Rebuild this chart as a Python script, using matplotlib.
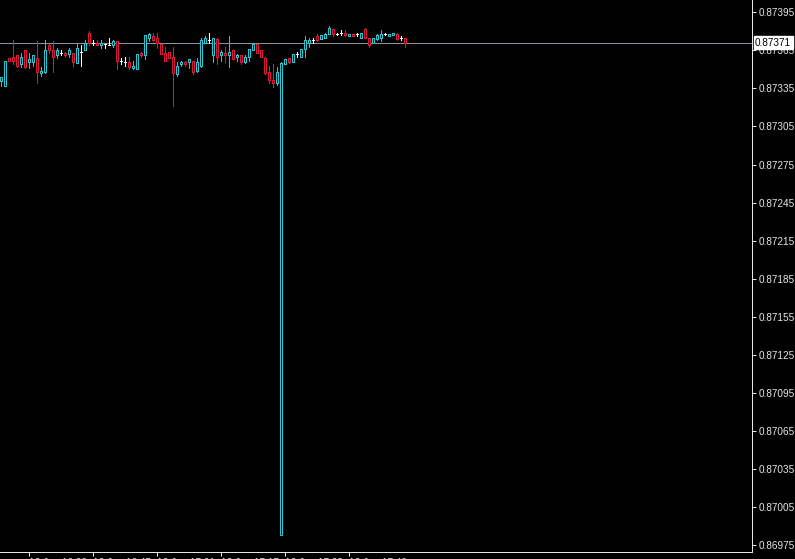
import matplotlib
matplotlib.use("Agg")
import matplotlib.pyplot as plt
import matplotlib.transforms as mtransforms

# one-minute candles, prices
opens = [0.87341, 0.87337, 0.87359, 0.87360, 0.87361, 0.87354, 0.87365, 0.87356, 0.87356, 0.87359,
         0.87347, 0.87348, 0.87369, 0.87365, 0.87361, 0.87363, 0.87363, 0.87362, 0.87363, 0.87355,
         0.87364, 0.87365, 0.87379, 0.87371, 0.87371, 0.87369, 0.87370, 0.87369, 0.87369, 0.87372,
         0.87357, 0.87356, 0.87356, 0.87351, 0.87350, 0.87363, 0.87361, 0.87375, 0.87376, 0.87375,
         0.87370, 0.87363, 0.87364, 0.87360, 0.87346, 0.87354, 0.87356, 0.87356, 0.87357, 0.87349,
         0.87353, 0.87371, 0.87373, 0.87361, 0.87374, 0.87361, 0.87363, 0.87361, 0.87365, 0.87360,
         0.87361, 0.87356, 0.87360, 0.87365, 0.87370, 0.87365, 0.87359, 0.87348, 0.87342, 0.87339,
         0.86983, 0.87354, 0.87359, 0.87356, 0.87362, 0.87360, 0.87366, 0.87371, 0.87373, 0.87376,
         0.87374, 0.87375, 0.87378, 0.87382, 0.87378, 0.87379, 0.87379, 0.87376, 0.87378, 0.87378,
         0.87375, 0.87382, 0.87375, 0.87371, 0.87374, 0.87375, 0.87378, 0.87376, 0.87377, 0.87378,
         0.87375, 0.87375]
highs = [0.87344, 0.87357, 0.87359, 0.87373, 0.87361, 0.87363, 0.87365, 0.87363, 0.87361, 0.87372,
         0.87352, 0.87373, 0.87370, 0.87372, 0.87367, 0.87365, 0.87364, 0.87367, 0.87363, 0.87370,
         0.87369, 0.87373, 0.87380, 0.87373, 0.87373, 0.87373, 0.87370, 0.87375, 0.87373, 0.87372,
         0.87359, 0.87360, 0.87360, 0.87357, 0.87362, 0.87364, 0.87377, 0.87379, 0.87379, 0.87379,
         0.87370, 0.87368, 0.87364, 0.87368, 0.87356, 0.87357, 0.87357, 0.87358, 0.87357, 0.87359,
         0.87375, 0.87376, 0.87379, 0.87375, 0.87375, 0.87365, 0.87368, 0.87376, 0.87365, 0.87362,
         0.87361, 0.87361, 0.87366, 0.87370, 0.87370, 0.87365, 0.87360, 0.87353, 0.87354, 0.87352,
         0.87356, 0.87358, 0.87359, 0.87362, 0.87364, 0.87366, 0.87376, 0.87375, 0.87375, 0.87378,
         0.87377, 0.87379, 0.87384, 0.87382, 0.87379, 0.87381, 0.87381, 0.87378, 0.87378, 0.87379,
         0.87379, 0.87383, 0.87375, 0.87375, 0.87378, 0.87381, 0.87379, 0.87378, 0.87379, 0.87379,
         0.87376, 0.87375]
lows = [0.87337, 0.87337, 0.87357, 0.87354, 0.87352, 0.87352, 0.87351, 0.87351, 0.87353, 0.87339,
        0.87345, 0.87347, 0.87363, 0.87348, 0.87359, 0.87361, 0.87360, 0.87360, 0.87353, 0.87355,
        0.87353, 0.87365, 0.87369, 0.87369, 0.87369, 0.87367, 0.87367, 0.87369, 0.87368, 0.87350,
        0.87354, 0.87353, 0.87350, 0.87350, 0.87350, 0.87360, 0.87358, 0.87372, 0.87372, 0.87367,
        0.87362, 0.87357, 0.87359, 0.87321, 0.87345, 0.87353, 0.87353, 0.87351, 0.87346, 0.87348,
        0.87352, 0.87371, 0.87371, 0.87356, 0.87354, 0.87357, 0.87356, 0.87352, 0.87358, 0.87357,
        0.87354, 0.87355, 0.87357, 0.87365, 0.87363, 0.87360, 0.87346, 0.87339, 0.87336, 0.87338,
        0.86983, 0.87354, 0.87355, 0.87356, 0.87360, 0.87360, 0.87360, 0.87368, 0.87371, 0.87372,
        0.87374, 0.87375, 0.87378, 0.87376, 0.87377, 0.87377, 0.87376, 0.87376, 0.87376, 0.87376,
        0.87375, 0.87375, 0.87368, 0.87371, 0.87373, 0.87372, 0.87377, 0.87376, 0.87377, 0.87373,
        0.87373, 0.87368]
closes = [0.87344, 0.87357, 0.87357, 0.87357, 0.87353, 0.87360, 0.87352, 0.87358, 0.87361, 0.87348,
          0.87349, 0.87365, 0.87365, 0.87360, 0.87365, 0.87363, 0.87361, 0.87365, 0.87356, 0.87367,
          0.87364, 0.87371, 0.87371, 0.87371, 0.87369, 0.87371, 0.87370, 0.87369, 0.87372, 0.87357,
          0.87357, 0.87356, 0.87352, 0.87353, 0.87362, 0.87361, 0.87377, 0.87378, 0.87373, 0.87371,
          0.87362, 0.87357, 0.87359, 0.87347, 0.87353, 0.87356, 0.87354, 0.87358, 0.87348, 0.87356,
          0.87373, 0.87375, 0.87373, 0.87375, 0.87360, 0.87364, 0.87361, 0.87364, 0.87358, 0.87361,
          0.87356, 0.87360, 0.87366, 0.87370, 0.87363, 0.87360, 0.87347, 0.87342, 0.87339, 0.87348,
          0.87355, 0.87358, 0.87356, 0.87362, 0.87362, 0.87366, 0.87373, 0.87373, 0.87373, 0.87373,
          0.87377, 0.87378, 0.87383, 0.87378, 0.87378, 0.87379, 0.87377, 0.87378, 0.87376, 0.87378,
          0.87379, 0.87375, 0.87369, 0.87375, 0.87377, 0.87378, 0.87378, 0.87378, 0.87379, 0.87374,
          0.87375, 0.87371]

price_ticks = [0.87395, 0.87365, 0.87335, 0.87305, 0.87275, 0.87245, 0.87215, 0.87185, 0.87155,
               0.87125, 0.87095, 0.87065, 0.87035, 0.87005, 0.86975]
time_tick_bars = [7, 23, 39, 55, 71, 87]
time_labels = ["12 Jan 16:29", "12 Jan 16:45", "12 Jan 17:01", "12 Jan 17:17", "12 Jan 17:33", "12 Jan 17:49"]

UP = "#1fc8d2"
DOWN = "#e0143c"
FLAT = "#ffffff"
FG = "#e6e6e6"

W, H = 795, 559
fig = plt.figure(figsize=(W / 100, H / 100), dpi=100, facecolor="black")
ax = fig.add_axes([0, 7 / H, 752 / W, 552 / H], facecolor="black")

n = len(opens)
xs = list(range(n))
colors = [UP if c > o else DOWN if c < o else FLAT for o, c in zip(opens, closes)]

# wicks first, then hollow bodies over them
ax.vlines(xs, lows, highs, colors=colors, linewidth=0.72, antialiased=False, zorder=2)
ax.bar(xs, [c - o for o, c in zip(opens, closes)], bottom=opens, width=0.5,
       facecolor="black", edgecolor=colors, linewidth=0.72, antialiased=False, zorder=3)

# bid line and its label
last = closes[-1]
ax.axhline(last, color="#8a94a0", linewidth=0.72, zorder=1)
trans = mtransforms.blended_transform_factory(ax.transAxes, ax.transData)
ax.text(1.004, last, "%.5f" % last, transform=trans, ha="left", va="center",
        fontsize=7.2, family="Liberation Sans", color="black", zorder=10, clip_on=False,
        bbox=dict(boxstyle="square,pad=0.15", facecolor="white", edgecolor="white"))

ax.set_xlim(-0.25, 187.75)
ax.set_ylim(0.869695, 0.874047)

ax.yaxis.tick_right()
ax.set_yticks(price_ticks)
ax.set_yticklabels(["%.5f" % p for p in price_ticks])
ax.set_xticks(time_tick_bars)
ax.set_xticklabels(time_labels, ha="left")
ax.tick_params(axis="both", colors=FG, labelcolor=FG, length=3, width=0.72, labelsize=7.2)
ax.tick_params(axis="y", pad=2)
ax.tick_params(axis="x", pad=1.5)
for lab in ax.get_xticklabels() + ax.get_yticklabels():
    lab.set_family("Liberation Sans")

for side in ("top", "left"):
    ax.spines[side].set_visible(False)
for side in ("right", "bottom"):
    ax.spines[side].set_color(FG)
    ax.spines[side].set_linewidth(0.72)

fig.savefig("out.png", dpi=100, facecolor="black")
